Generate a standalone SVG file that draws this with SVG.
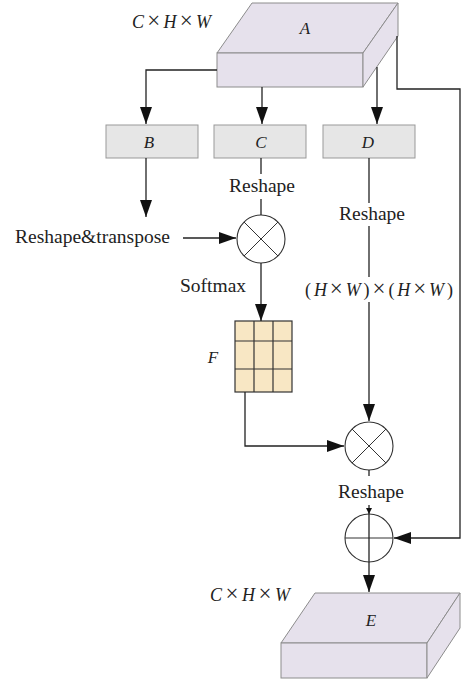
<svg xmlns="http://www.w3.org/2000/svg" width="461" height="682" viewBox="0 0 461 682">
<style>
.t{font-family:"Liberation Serif","Times New Roman",serif;fill:#222;}
.i{font-style:italic;}
.x{font-size:23px;}
.box3d{fill:#e6e1ec;stroke:#8c8c8c;stroke-width:1;}
.box{fill:#e6e6e6;stroke:#999;stroke-width:1;}
.ln{fill:none;stroke:#222;stroke-width:1.3;}
.op{fill:#fff;stroke:#333;stroke-width:1.1;}
.opl{stroke:#333;stroke-width:1;}
.grid{fill:#f8e7c4;stroke:#333;stroke-width:1.2;}
</style>
<defs>
<marker id="ah" markerUnits="userSpaceOnUse" markerWidth="17" markerHeight="12" refX="17" refY="6" orient="auto">
<path d="M0,0 L17,6 L0,12 z" fill="#111"/>
</marker>
<marker id="ahs" markerUnits="userSpaceOnUse" markerWidth="6" markerHeight="6" refX="6" refY="3" orient="auto">
<path d="M0,0 L6,3 L0,6 z" fill="#111"/>
</marker>
</defs>

<g id="nodeA">
<polygon class="box3d" points="217,53 252,3 398,3 363,53"/>
<rect class="box3d" x="217" y="53" width="146" height="34"/>
<polygon class="box3d" points="363,53 398,3 398,36 363,87"/>
<text class="t i" x="305" y="34" font-size="17" text-anchor="middle">A</text>
<text class="t" x="132" y="28" font-size="18" textLength="79" lengthAdjust="spacing"><tspan class="i">C</tspan><tspan class="x">×</tspan><tspan class="i">H</tspan><tspan class="x">×</tspan><tspan class="i">W</tspan></text>
</g>

<g id="nodeB">
<rect class="box" x="106" y="125" width="92" height="33"/>
<text class="t i" x="149" y="148" font-size="17" text-anchor="middle">B</text>
</g>
<g id="nodeC">
<rect class="box" x="214" y="125" width="92" height="33"/>
<text class="t i" x="261" y="148" font-size="17" text-anchor="middle">C</text>
</g>
<g id="nodeD">
<rect class="box" x="323" y="125" width="92" height="33"/>
<text class="t i" x="368" y="148" font-size="17" text-anchor="middle">D</text>
</g>

<g id="mul1">
<circle class="op" cx="261" cy="239" r="24"/>
<line class="opl" x1="244" y1="222" x2="278" y2="256"/>
<line class="opl" x1="278" y1="222" x2="244" y2="256"/>
</g>

<g id="nodeF">
<rect class="grid" x="235" y="321" width="57" height="71"/>
<line class="grid" x1="254" y1="321" x2="254" y2="392"/>
<line class="grid" x1="273" y1="321" x2="273" y2="392"/>
<line class="grid" x1="235" y1="341" x2="292" y2="341"/>
<line class="grid" x1="235" y1="369" x2="292" y2="369"/>
<text class="t i" x="213" y="363" font-size="17" text-anchor="middle">F</text>
</g>

<g id="mul2">
<circle class="op" cx="369" cy="446" r="24"/>
<line class="opl" x1="352" y1="429" x2="386" y2="463"/>
<line class="opl" x1="386" y1="429" x2="352" y2="463"/>
</g>

<g id="add">
<circle class="op" cx="369" cy="538" r="24"/>
<line class="opl" x1="345" y1="538" x2="393" y2="538"/>
</g>

<g id="nodeE">
<polygon class="box3d" points="281,643 315,593 460,593 427,643"/>
<rect class="box3d" x="281" y="643" width="146" height="35"/>
<polygon class="box3d" points="427,643 460,593 460,628 427,678"/>
<text class="t i" x="371" y="626" font-size="17" text-anchor="middle">E</text>
<text class="t" x="210" y="601" font-size="18" textLength="80" lengthAdjust="spacing"><tspan class="i">C</tspan><tspan class="x">×</tspan><tspan class="i">H</tspan><tspan class="x">×</tspan><tspan class="i">W</tspan></text>
</g>

<g id="connectors">
<polyline class="ln" points="217,70 146,70 146,124" marker-end="url(#ah)"/>
<line class="ln" x1="262" y1="87" x2="262" y2="124" marker-end="url(#ah)"/>
<line class="ln" x1="377" y1="67" x2="377" y2="124" marker-end="url(#ah)"/>
<polyline class="ln" points="397,36 397,89 460,89 460,538 394,538" marker-end="url(#ah)"/>
<line class="ln" x1="146" y1="158" x2="146" y2="217" marker-end="url(#ah)"/>
<line class="ln" x1="261" y1="158" x2="261" y2="174"/>
<line class="ln" x1="261" y1="199" x2="261" y2="215"/>
<line class="ln" x1="183" y1="238" x2="236" y2="238" marker-end="url(#ah)"/>
<line class="ln" x1="261" y1="263" x2="261" y2="321" marker-end="url(#ah)"/>
<line class="ln" x1="369" y1="158" x2="369" y2="203"/>
<line class="ln" x1="369" y1="226" x2="369" y2="277"/>
<line class="ln" x1="369" y1="302" x2="369" y2="421" marker-end="url(#ah)"/>
<polyline class="ln" points="245,392 245,446 344,446" marker-end="url(#ah)"/>
<line class="ln" x1="369" y1="470" x2="369" y2="476"/>
<line class="ln" x1="369" y1="505" x2="369" y2="514" marker-end="url(#ahs)"/>
<line class="ln" x1="369" y1="514" x2="369" y2="592" marker-end="url(#ah)"/>
<text class="t" x="262" y="192" font-size="19.5" text-anchor="middle">Reshape</text>
<text class="t" x="372" y="220" font-size="19.5" text-anchor="middle">Reshape</text>
<text class="t" x="15" y="243" font-size="19.5">Reshape&amp;transpose</text>
<text class="t" x="180" y="292" font-size="19.5">Softmax</text>
<text class="t" x="305" y="296" font-size="18" textLength="148" lengthAdjust="spacing">(<tspan class="i">H</tspan><tspan class="x">×</tspan><tspan class="i">W</tspan>)<tspan class="x">×</tspan>(<tspan class="i">H</tspan><tspan class="x">×</tspan><tspan class="i">W</tspan>)</text>
<text class="t" x="371" y="498" font-size="19.5" text-anchor="middle">Reshape</text>
</g>
</svg>
